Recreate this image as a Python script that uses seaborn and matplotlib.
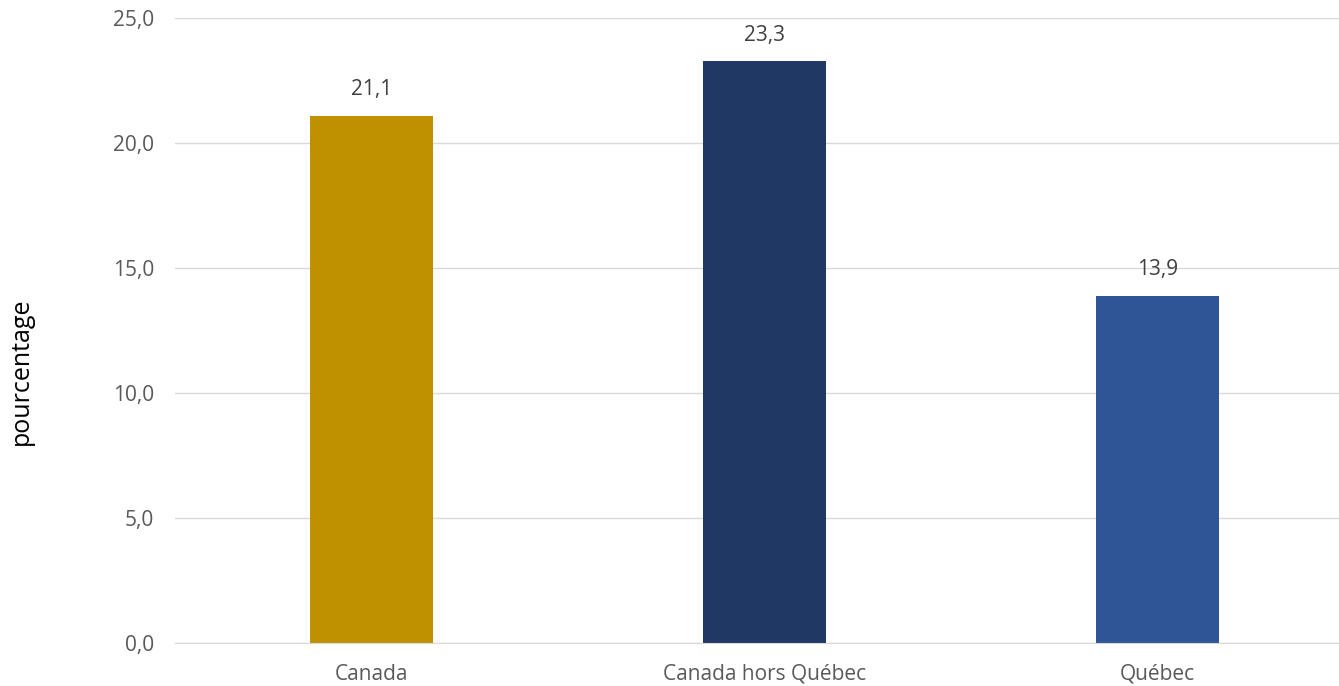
import matplotlib.pyplot as plt
import seaborn as sns
import pandas as pd

categories = ["Canada", "Canada hors Québec", "Québec"]
values = [21.1, 23.3, 13.9]
colors = ["#BF9000", "#203864", "#2F5597"]

df = pd.DataFrame({"region": categories, "pct": values})

sns.set_style("white")
plt.rcParams["font.family"] = ["Open Sans", "DejaVu Sans"]

fig = plt.figure(figsize=(13.39, 6.86), dpi=100)
ax = fig.add_axes([175 / 1339, 43 / 686, 1164 / 1339, 625 / 686])

sns.barplot(
    data=df,
    x="region",
    y="pct",
    hue="region",
    palette=colors,
    saturation=1,
    width=0.313,
    linewidth=0,
    legend=False,
    ax=ax
)

# value labels above bars
for i, v in enumerate(values):
    ax.text(i, v + 0.6, f"{v:.1f}".replace(".", ","),
            ha="center", va="bottom", fontsize=15, color="#404040")

ax.set_xlim(-0.5, 2.462)
ax.set_ylim(0, 25)
ax.set_yticks([0, 5, 10, 15, 20, 25])
ax.set_yticklabels([f"{t:.1f}".replace(".", ",") for t in [0, 5, 10, 15, 20, 25]])
ax.yaxis.grid(True, color="#D9D9D9", linewidth=1)
ax.set_axisbelow(True)

for s in ["top", "right", "left"]:
    ax.spines[s].set_visible(False)
ax.spines["bottom"].set_color("#D9D9D9")

ax.tick_params(axis="both", length=0, labelsize=15, colors="#595959")
ax.tick_params(axis="y", pad=15)
ax.tick_params(axis="x", pad=15)
ax.set_xlabel("")
ax.set_ylabel("pourcentage", fontsize=18, color="#000000")
ax.yaxis.set_label_coords(-0.121, 0.435)

fig.savefig("out.png", dpi=100)
